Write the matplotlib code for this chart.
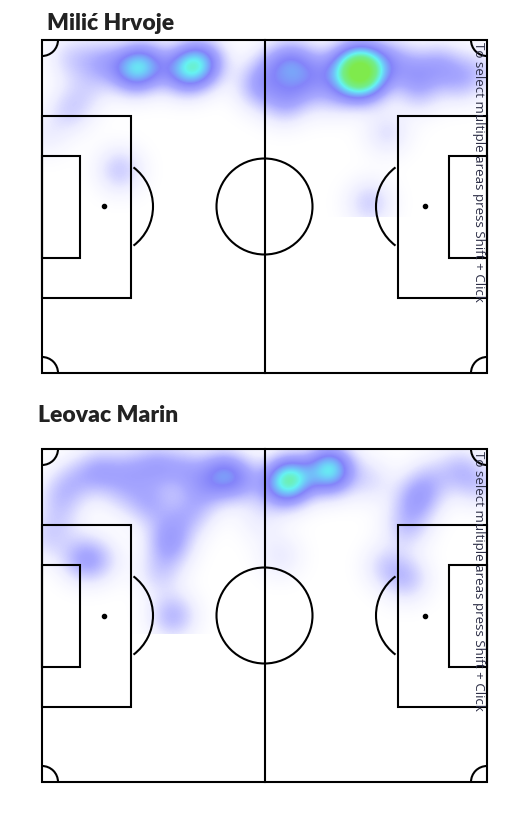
"""Two player heatmaps drawn on football pitches"""

import numpy as np
import matplotlib.pyplot as plt
from matplotlib.colors import LinearSegmentedColormap
from matplotlib.patches import Rectangle, Arc, Circle

# Players
players = ['Milić Hrvoje', 'Leovac Marin']

# Touch locations in pitch pixels (x from left goal line, y from top touchline) and intensity
milic_x = [30, 60, 105, 230, 215, 28, 5, 78, 45,
           88, 100, 140, 152, 163,
           250, 241, 261, 278,
           310, 326, 310, 326,
           353, 373, 398, 418, 438, 378, 345, 328, 248, 288, 218]
milic_y = [18, 22, 22, 28, 45, 70, 95, 130, 50,
           30, 29, 32, 26, 22,
           22, 63, 43, 30,
           24, 24, 40, 40,
           20, 35, 25, 40, 30, 53, 93, 163, 55, 55, 48]
milic_w = [0.12, 0.18, 0.18, 0.15, 0.1, 0.12, 0.06, 0.15, 0.08,
           0.28, 0.22, 0.26, 0.34, 0.22,
           0.28, 0.12, 0.15, 0.15,
           0.35, 0.35, 0.35, 0.35,
           0.15, 0.18, 0.18, 0.15, 0.1, 0.1, 0.1, 0.14, 0.1, 0.1, 0.1]

leovac_x = [248, 288, 232,
            58, 33, 18, 88, 115, 143, 180, 198, 163, 108, 81, 148, 128, 128, 118, 131, 41, 58, 5, 18,
            375, 388, 418, 438, 365, 345, 365, 238, 328, 218]
leovac_y = [31, 21, 40,
            22, 31, 47, 21, 17, 21, 24, 31, 41, 54, 44, 64, 81, 97, 124, 167, 110, 111, 90, 71,
            50, 31, 21, 36, 77, 117, 130, 107, 31, 71]
leovac_w = [0.65, 0.6, 0.12,
            0.2, 0.12, 0.12, 0.15, 0.2, 0.18, 0.3, 0.2, 0.15, 0.18, 0.1, 0.15, 0.12, 0.18, 0.12, 0.2,
            0.2, 0.1, 0.1, 0.08,
            0.22, 0.12, 0.15, 0.12, 0.15, 0.12, 0.15, 0.08, 0.1, 0.06]

heat_x = [milic_x, leovac_x]
heat_y = [milic_y, leovac_y]
heat_w = [milic_w, leovac_w]
heat_depth = [177, 185]  # heat layer only covers the upper part of the pitch

# Pitch size in pixels
W, H = 445, 333
SIGMA = 16

cmap = LinearSegmentedColormap.from_list('heat', [
    (0.0, (1, 1, 1)),
    (0.08, (0.93, 0.93, 1.0)),
    (0.25, (0.66, 0.66, 1.0)),
    (0.42, (0.52, 0.52, 0.98)),
    (0.55, (0.45, 0.75, 0.98)),
    (0.65, (0.40, 0.95, 0.95)),
    (0.8, (0.45, 0.93, 0.55)),
    (1.0, (0.50, 0.92, 0.30)),
])


def draw_pitch(ax):
    lw = 1.5
    kw = dict(fill=False, ec='black', lw=lw, zorder=3, clip_on=False)
    ax.add_patch(Rectangle((0, 0), W, H, **kw))
    ax.plot([W / 2, W / 2], [0, H], color='black', lw=lw, zorder=3, clip_on=False)
    ax.add_patch(Circle((W / 2, H / 2), 48, **kw))
    for side in [0, 1]:
        gx = 0 if side == 0 else W
        d = 1 if side == 0 else -1
        ax.add_patch(Rectangle((gx, H / 2 - 91), d * 89, 182, **kw))
        ax.add_patch(Rectangle((gx, H / 2 - 51), d * 38, 102, **kw))
        spot = gx + d * 62
        ax.plot(spot, H / 2, 'o', color='black', ms=3, zorder=3)
        if side == 0:
            ax.add_patch(Arc((spot, H / 2), 98, 98, theta1=-53, theta2=53, ec='black', lw=lw, zorder=3))
        else:
            ax.add_patch(Arc((spot, H / 2), 98, 98, theta1=127, theta2=233, ec='black', lw=lw, zorder=3))
    # corner arcs (y axis is inverted)
    for cx, cy, t1, t2 in [(0, 0, 0, 90), (W, 0, 90, 180), (0, H, 270, 360), (W, H, 180, 270)]:
        ax.add_patch(Arc((cx, cy), 32, 32, theta1=t1, theta2=t2, ec='black', lw=lw, zorder=3))


fig = plt.figure(figsize=(5.26, 8.16), dpi=100)
tops = [40, 449]
title_pos = [(5, -10), (-4, -27)]

for i, name in enumerate(players):
    ax = fig.add_axes([42 / 526, 1 - (tops[i] + H) / 816, W / 526, H / 816])
    ax.set_xlim(0, W)
    ax.set_ylim(H, 0)
    ax.axis('off')

    # heat layer
    depth = heat_depth[i]
    gx, gy = np.meshgrid(np.arange(W) + 0.5, np.arange(depth) + 0.5)
    dens = np.zeros_like(gx)
    for x, y, w in zip(heat_x[i], heat_y[i], heat_w[i]):
        dens += w * np.exp(-((gx - x) ** 2 + (gy - y) ** 2) / (2 * SIGMA ** 2))
    ax.imshow(dens, cmap=cmap, vmin=0, vmax=1, extent=(0, W, depth, 0),
              interpolation='bilinear', zorder=1, aspect='auto')

    draw_pitch(ax)

    ax.text(title_pos[i][0], title_pos[i][1], name, fontsize=16.5, fontweight='heavy',
            family='Lato', color='#222222', ha='left', va='baseline', clip_on=False)
    ax.text(436, 2, 'To select multiple areas press Shift + Click', rotation=-90,
            fontsize=9.6, family='Open Sans', color='#2b2d45', ha='center', va='top', zorder=4)

plt.savefig('out.png', dpi=100)
